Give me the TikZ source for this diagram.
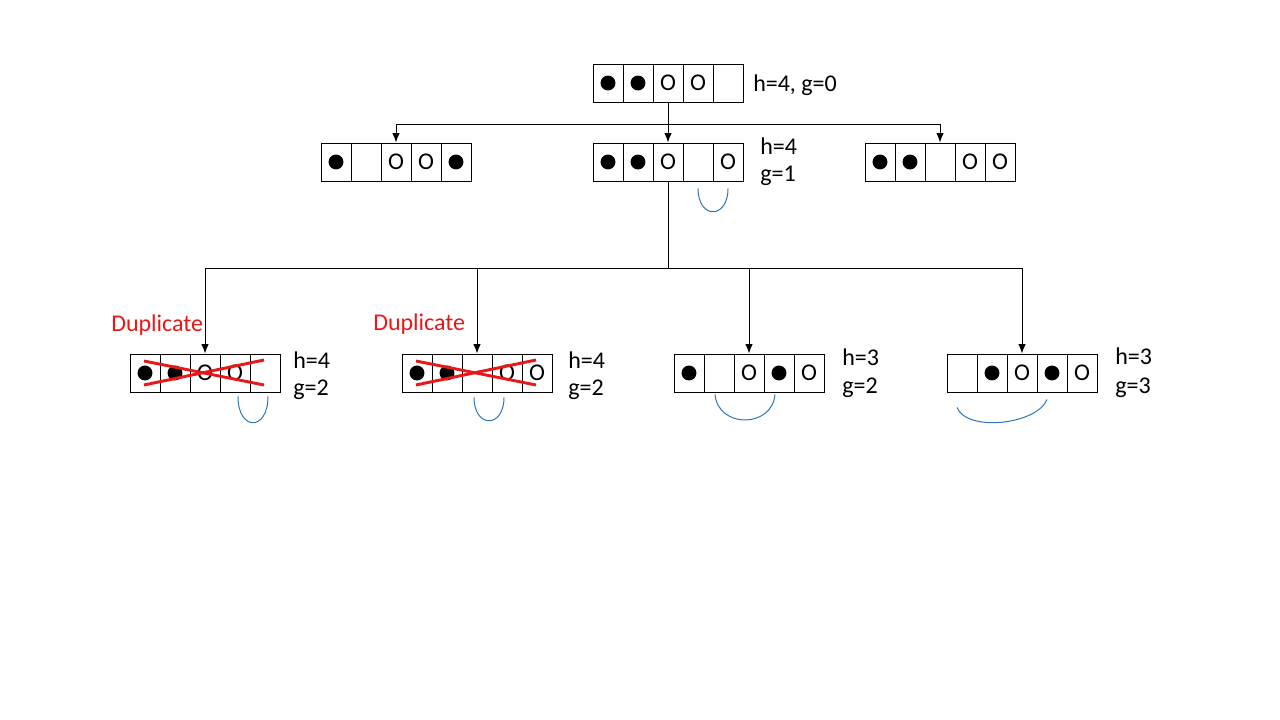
\documentclass[tikz,border=0pt]{standalone}
\usepackage{fontspec}
\setmainfont{Carlito}
\usetikzlibrary{calc,arrows.meta,positioning}
\definecolor{dupred}{RGB}{232,24,24}
\definecolor{hopblue}{RGB}{46,117,182}
\tikzset{
    cell/.style = {draw, rectangle,
        minimum width=22.5pt,
        minimum height=28.5pt, inner sep=0pt, line width=0.7pt},
    cell b/.style = {path picture={\fill[black] (path picture bounding box.center) circle (5.6pt);}},
    cell o/.style = {label={[font=\fontsize{18}{20}\selectfont, inner sep=0pt]center:O}},
    cell n/.style = {},
    link/.style = {draw, line width=0.75pt, -{Latex[length=7pt,width=5.5pt]}},
    score/.style = {anchor=base west, inner sep=0pt},
    hop/.style = {draw=hopblue, line width=0.75pt},
    cross/.style = {draw=dupred, line width=2.2pt},
    dup/.style = {anchor=base west, inner sep=0pt, text=dupred}
}
% five cells in a row, centred at (#2,#3); b = stone, o = ring, n = empty
\newcommand{\board}[4]{%
    \foreach \c [count=\i] in {#4}{
        \node [cell, cell \c] (#1-\i) at ({#2+(\i-3)*30},#3) {};
    }
}

\begin{document}
\begin{tikzpicture}[x=0.75pt, y=-0.75pt, font=\fontsize{18}{21.6}\selectfont]
    \useasboundingbox (0,0) rectangle (1280,720);
    % start
    \board{root}{668}{83}{b,b,o,o,n}
    \node [score] (root-s) at (753,92) {h=4, g=0};
    % first level
    \board{ma}{396}{162}{b,n,o,o,b}
    \board{mb}{668}{162}{b,b,o,n,o}
    \board{mc}{940}{162}{b,b,n,o,o}
    \node [score] (mb-h) at (760,155) {h=4};
    \node [score] (mb-g) at (760,182) {g=1};
    \foreach \n in {ma,mb,mc}
        \draw [link] (root-3.south) -- ++(0,22) -| (\n-3.north);
    \draw [hop] ($(mb-4.south)+(0,7)$) .. controls +(0,31) and +(0,31) .. ($(mb-5.south)+(0,7)$);
    % second level
    \board{da}{205}{373}{b,b,o,o,n}
    \board{db}{477}{373}{b,b,n,o,o}
    \board{dc}{749}{373}{b,n,o,b,o}
    \board{dd}{1022}{373}{n,b,o,b,o}
    \foreach \n in {da,db,dc,dd}
        \draw [link] (mb-3.south) -- ++(0,87) -| (\n-3.north);
    \node [score] (da-h) at (293,368) {h=4};
    \node [score] (da-g) at (293,395) {g=2};
    \node [score] (db-h) at (568,368) {h=4};
    \node [score] (db-g) at (568,395) {g=2};
    \node [score] (dc-h) at (842,365) {h=3};
    \node [score] (dc-g) at (842,393) {g=2};
    \node [score] (dd-h) at (1115,364) {h=3};
    \node [score] (dd-g) at (1115,393) {g=3};
    % repeated states
    \node [dup] (da-dup) at (111,331) {Duplicate};
    \node [dup] (db-dup) at (373,330) {Duplicate};
    \foreach \n in {da,db}{
        \draw [cross] ($(\n-1.center)+(-1,-12)$) -- ($(\n-5.center)+(-1,12)$);
        \draw [cross] ($(\n-1.center)+(-1,12)$) -- ($(\n-5.center)+(-1,-13)$);
    }
    \draw [hop] ($(da-4.south)+(3,4)$) .. controls +(0,35) and +(0,35) .. ($(da-5.south)+(3,4)$);
    \draw [hop] ($(db-3.south)+(-3,5)$) .. controls +(0,31) and +(0,31) .. ($(db-4.south)+(-3,5)$);
    \draw [hop] ($(dc-2.south)+(-4,2)$) .. controls +(3,34) and +(-3,34) .. ($(dc-4.south)+(-4,2)$);
    \draw [hop] ($(dd-1.south)+(-5,15)$) .. controls +(10,25) and +(-10,25) .. ($(dd-4.south)+(-5,7)$);
\end{tikzpicture}
\end{document}
